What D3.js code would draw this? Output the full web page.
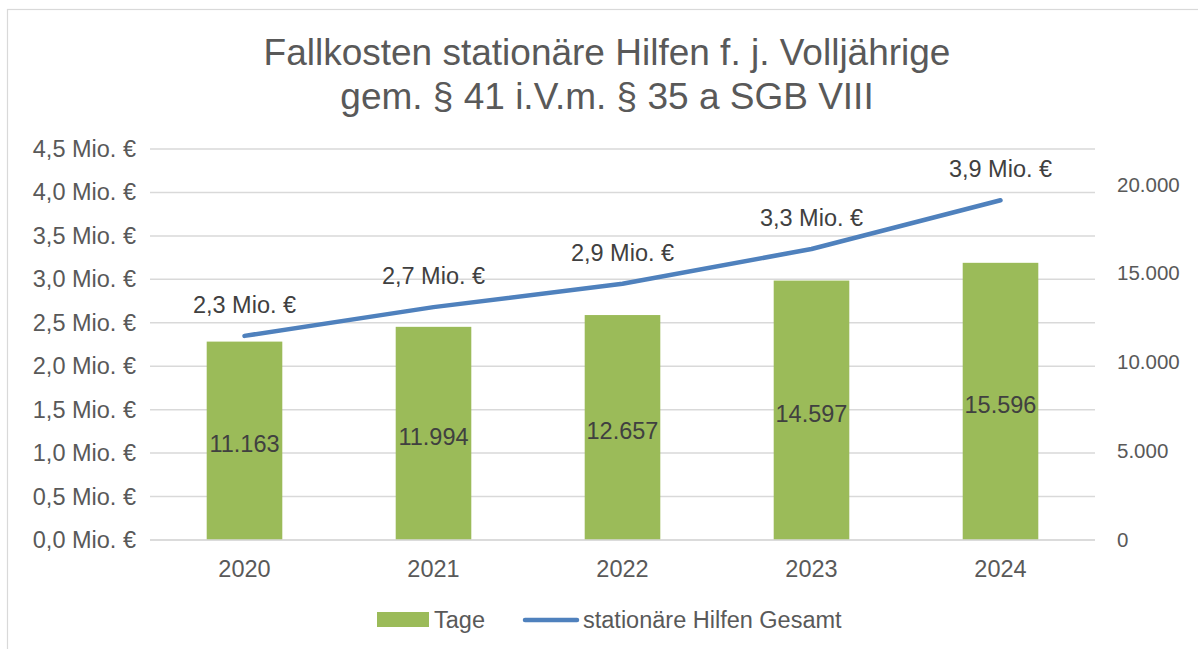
<!DOCTYPE html>
<html>
<head>
<meta charset="utf-8">
<script src="https://cdn.jsdelivr.net/npm/d3@7"></script>
<style>
  html, body { margin: 0; padding: 0; background: #ffffff; }
  svg { display: block; font-family: "Liberation Sans", Arial, sans-serif; }
</style>
</head>
<body>
<svg id="chart" width="1198" height="649"></svg>
<script>
// ---- data ----
const years = ["2020", "2021", "2022", "2023", "2024"];
const tage = [11163, 11994, 12657, 14597, 15596];
const kostenMio = [2.349, 2.68, 2.949, 3.349, 3.91];
const leftTicks = [0, 0.5, 1.0, 1.5, 2.0, 2.5, 3.0, 3.5, 4.0, 4.5];
const rightTicks = [0, 5000, 10000, 15000, 20000];
const titleLines = ["Fallkosten stationäre Hilfen f. j. Volljährige", "gem. § 41 i.V.m. § 35 a SGB VIII"];
const legendLabels = ["Tage", "stationäre Hilfen Gesamt"];

// ---- layout ----
const W = 1198, H = 649;
const plot = { left: 150, right: 1095, top: 149, bottom: 540 };
const textCol = "#595959";
const labelCol = "#404040";
const gridCol = "#d9d9d9";
const barCol = "#9bbb59";
const lineCol = "#4f81bd";

const deLocale = d3.formatLocale({ decimal: ",", thousands: ".", grouping: [3], currency: ["", " €"] });
const fmtInt = deLocale.format(",d");
const fmtMio = v => deLocale.format(".1f")(v) + " Mio. €";

const svg = d3.select("#chart");

// outer border (left/top visible)
svg.append("rect")
  .attr("x", 7.5).attr("y", 9.5)
  .attr("width", W + 20).attr("height", H + 20)
  .attr("fill", "#ffffff")
  .attr("stroke", gridCol).attr("stroke-width", 1.2);

// title
svg.append("g").selectAll("text").data(titleLines).join("text")
  .attr("x", 607)
  .attr("y", (d, i) => 65 + i * 44)
  .attr("text-anchor", "middle")
  .attr("fill", textCol)
  .attr("font-size", 37)
  .text(d => d);

// scales
const x = d3.scaleBand().domain(years).range([plot.left, plot.right]).paddingInner(0.6).paddingOuter(0.3);
const yL = d3.scaleLinear().domain([0, 4.5]).range([plot.bottom, plot.top]);
const yR = d3.scaleLinear().domain([0, 22000]).range([plot.bottom, plot.top]);

// gridlines
svg.append("g").selectAll("line").data(leftTicks).join("line")
  .attr("x1", plot.left).attr("x2", plot.right)
  .attr("y1", d => yL(d)).attr("y2", d => yL(d))
  .attr("stroke", gridCol).attr("stroke-width", 1.5);

// left axis
const leftAxis = svg.append("g")
  .attr("transform", `translate(${plot.left},0)`)
  .call(d3.axisLeft(yL).tickValues(leftTicks).tickFormat(fmtMio).tickSize(0).tickPadding(14));
leftAxis.select(".domain").remove();
leftAxis.selectAll("text").attr("fill", textCol).attr("font-size", 23.5)
  .attr("font-family", "Liberation Sans, Arial, sans-serif");

// right axis
const rightAxis = svg.append("g")
  .attr("transform", `translate(${plot.right},0)`)
  .call(d3.axisRight(yR).tickValues(rightTicks).tickFormat(fmtInt).tickSize(0).tickPadding(22));
rightAxis.select(".domain").remove();
rightAxis.selectAll("text").attr("fill", textCol).attr("font-size", 20.5)
  .attr("font-family", "Liberation Sans, Arial, sans-serif");

// bottom axis
const bottomAxis = svg.append("g")
  .attr("transform", `translate(0,${plot.bottom})`)
  .call(d3.axisBottom(x).tickSize(0).tickPadding(20));
bottomAxis.select(".domain").remove();
bottomAxis.selectAll("text").attr("fill", textCol).attr("font-size", 23.5)
  .attr("font-family", "Liberation Sans, Arial, sans-serif");

// bars
svg.append("g").selectAll("rect").data(years).join("rect")
  .attr("x", d => x(d))
  .attr("width", x.bandwidth())
  .attr("y", (d, i) => yR(tage[i]))
  .attr("height", (d, i) => yR(0) - yR(tage[i]))
  .attr("fill", barCol);

// baseline on top of bars
svg.append("line")
  .attr("x1", plot.left).attr("x2", plot.right)
  .attr("y1", yL(0)).attr("y2", yL(0))
  .attr("stroke", gridCol).attr("stroke-width", 1.5);

// bar labels
svg.append("g").selectAll("text").data(years).join("text")
  .attr("x", d => x(d) + x.bandwidth() / 2)
  .attr("y", (d, i) => (yR(tage[i]) + yR(0)) / 2 + 3)
  .attr("dy", "0.35em")
  .attr("text-anchor", "middle")
  .attr("fill", labelCol)
  .attr("font-size", 23.5)
  .text((d, i) => fmtInt(tage[i]));

// line
const line = d3.line()
  .x((d, i) => x(years[i]) + x.bandwidth() / 2)
  .y(d => yL(d));
svg.append("path")
  .datum(kostenMio)
  .attr("d", line)
  .attr("fill", "none")
  .attr("stroke", lineCol)
  .attr("stroke-width", 4.5)
  .attr("stroke-linecap", "round")
  .attr("stroke-linejoin", "round");

// line labels
svg.append("g").selectAll("text").data(kostenMio).join("text")
  .attr("x", (d, i) => x(years[i]) + x.bandwidth() / 2)
  .attr("y", d => yL(d) - 23)
  .attr("text-anchor", "middle")
  .attr("fill", labelCol)
  .attr("font-size", 23.5)
  .text(d => fmtMio(d));

// legend
const lg = svg.append("g");
lg.append("rect").attr("x", 377).attr("y", 612).attr("width", 52).attr("height", 15).attr("fill", barCol);
lg.append("text").attr("x", 434).attr("y", 628).attr("fill", textCol).attr("font-size", 23.5).text(legendLabels[0]);
lg.append("line").attr("x1", 525).attr("x2", 577).attr("y1", 620).attr("y2", 620)
  .attr("stroke", lineCol).attr("stroke-width", 4.5).attr("stroke-linecap", "round");
lg.append("text").attr("x", 583).attr("y", 628).attr("fill", textCol).attr("font-size", 23.5).text(legendLabels[1]);
</script>
</body>
</html>
